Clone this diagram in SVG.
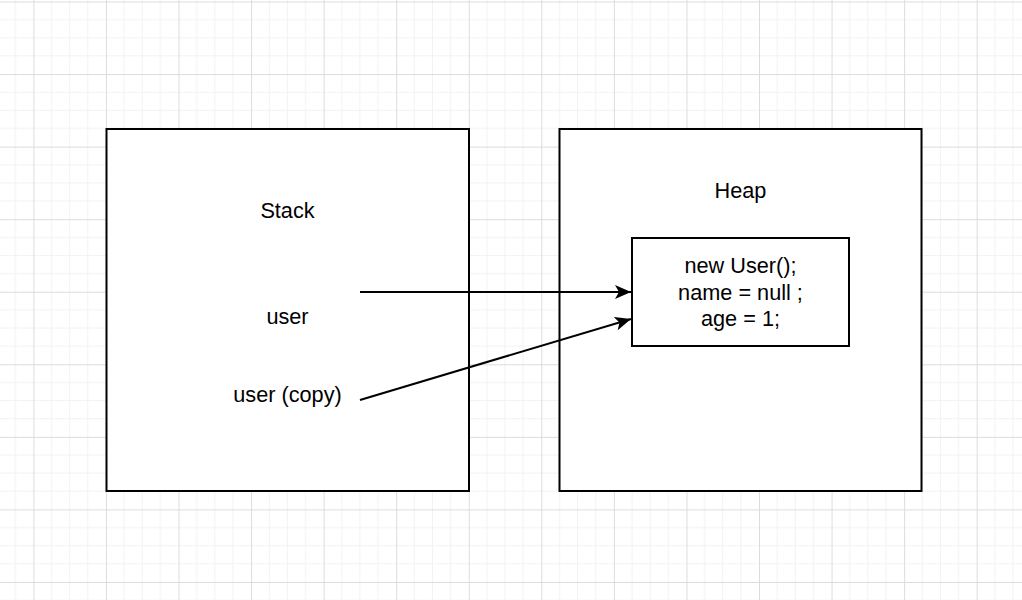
<svg xmlns="http://www.w3.org/2000/svg" width="1022" height="600" viewBox="0 0 1022 600">
  <style>
    .box { fill: #ffffff; stroke: #000000; stroke-width: 2; }
    .lbl { font-family: "Liberation Sans", Arial, sans-serif; font-size: 21.7px; fill: #000000; text-anchor: middle; }
    .edge { fill: none; stroke: #000000; stroke-width: 2; }
    .minor { stroke: #f2f2f2; stroke-width: 1; }
    .major { stroke: #dcdcdc; stroke-width: 1; }
  </style>
  <defs>
    <pattern id="grid" patternUnits="userSpaceOnUse" x="33.4" y="1.5" width="72.56" height="72.56">
      <line class="minor" x1="18.14" y1="0" x2="18.14" y2="72.56"/>
      <line class="minor" x1="36.28" y1="0" x2="36.28" y2="72.56"/>
      <line class="minor" x1="54.42" y1="0" x2="54.42" y2="72.56"/>
      <line class="minor" x1="0" y1="18.14" x2="72.56" y2="18.14"/>
      <line class="minor" x1="0" y1="36.28" x2="72.56" y2="36.28"/>
      <line class="minor" x1="0" y1="54.42" x2="72.56" y2="54.42"/>
      <line class="major" x1="0.5" y1="0" x2="0.5" y2="72.56"/>
      <line class="major" x1="0" y1="0.5" x2="72.56" y2="0.5"/>
    </pattern>
    <marker id="arrow" viewBox="0 0 16 14" refX="16" refY="7" markerWidth="16" markerHeight="14" markerUnits="userSpaceOnUse" orient="auto">
      <path d="M0,0 L16,7 L0,14 L4,7 z" fill="#000000"/>
    </marker>
  </defs>
  <rect x="0" y="0" width="1022" height="600" fill="#ffffff"/>
  <rect x="0" y="0" width="1022" height="600" fill="url(#grid)"/>

  <g id="stack">
    <rect class="box" x="106.5" y="129" width="362.5" height="362"/>
    <text class="lbl" x="287.5" y="217.5">Stack</text>
    <text class="lbl" x="287.5" y="323.5">user</text>
    <text class="lbl" x="287.5" y="401.5">user (copy)</text>
  </g>

  <g id="heap">
    <rect class="box" x="559.5" y="129" width="362" height="362"/>
    <text class="lbl" x="740.5" y="198">Heap</text>
  </g>

  <g id="user-object">
    <rect class="box" x="632" y="238" width="217" height="108"/>
    <text class="lbl" x="740.5" y="273">new User();</text>
    <text class="lbl" x="740.5" y="299.5">name = null ;</text>
    <text class="lbl" x="740.5" y="326">age = 1;</text>
  </g>

  <g id="connectors">
    <line class="edge" x1="360" y1="292" x2="631" y2="292" marker-end="url(#arrow)"/>
    <line class="edge" x1="360" y1="400" x2="631" y2="319" marker-end="url(#arrow)"/>
  </g>
</svg>
